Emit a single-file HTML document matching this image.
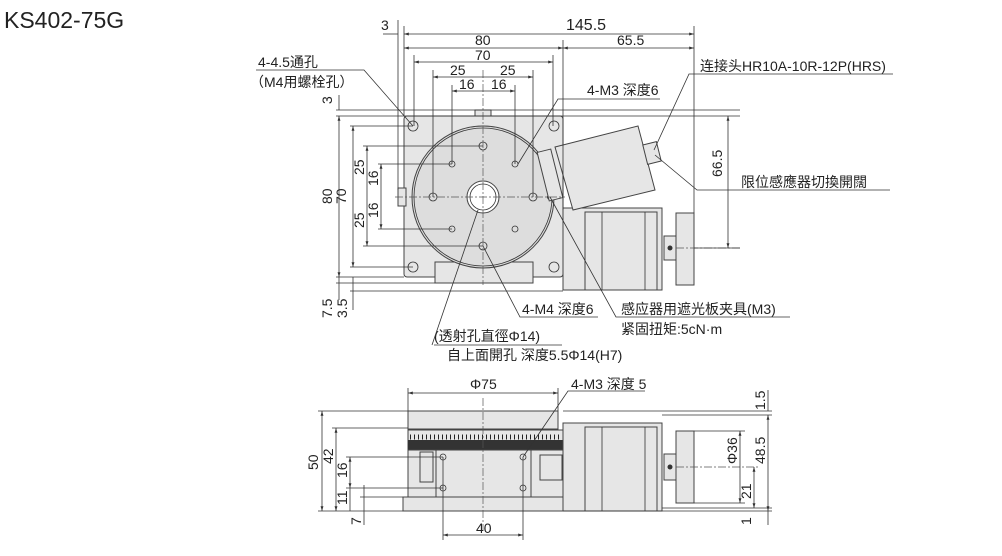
<!DOCTYPE html>
<html><head><meta charset="utf-8"><style>
body{margin:0;background:#fff;}
svg{display:block;font-family:"Liberation Sans","Noto Sans CJK SC",sans-serif;}
.t{font-size:14px;fill:#222}
.d{stroke:#333;stroke-width:0.8;fill:none}
.o{stroke:#444;stroke-width:1;fill:#e6e6e6}
.w{stroke:#444;stroke-width:1;fill:#fff}
.c{stroke:#555;stroke-width:0.7;stroke-dasharray:8 2 2 2;fill:none}
</style></head><body>
<svg width="1002" height="556" viewBox="0 0 1002 556">
<defs><marker id="a" viewBox="0 0 10 10" refX="10" refY="5" markerWidth="6" markerHeight="6" orient="auto-start-reverse"><path d="M0,2L10,5L0,8z" fill="#333"/></marker></defs>
<text x="4" y="28" style="font-size:23px;fill:#222">KS402-75G</text>

<!-- TOP VIEW -->
<rect class="o" x="404" y="116" width="159" height="161" rx="3"/>
<rect class="o" x="435" y="262" width="98" height="21"/>
<rect class="o" x="398" y="188" width="8" height="18"/>
<path class="o" d="M475,116 v-6 h16 v6z"/>
<circle class="o" cx="483" cy="197" r="71" style="fill:#ddd"/>
<circle class="d" cx="483" cy="197" r="69"/>
<circle class="w" cx="483" cy="197" r="16"/>
<circle class="d" cx="483" cy="197" r="13"/>
<g class="d">
<circle cx="413" cy="126" r="5"/><circle cx="554" cy="126" r="5"/><circle cx="413" cy="267" r="5"/><circle cx="554" cy="267" r="5"/>
<circle cx="483" cy="146" r="4"/><circle cx="483" cy="246" r="4"/><circle cx="433" cy="197" r="4"/><circle cx="533" cy="197" r="4"/>
<circle cx="452" cy="164" r="3"/><circle cx="515" cy="164" r="3"/><circle cx="452" cy="229" r="3"/><circle cx="515" cy="229" r="3"/>
</g>
<circle cx="550" cy="197" r="3" fill="#333"/>
<!-- motor -->
<rect class="o" x="563" y="208" width="99" height="82"/>
<rect class="o" x="585" y="212" width="72" height="78"/>
<line class="d" x1="602" y1="212" x2="602" y2="290"/><line class="d" x1="645" y1="212" x2="645" y2="290"/>
<path class="o" d="M555,147 L638,126 L655,190 L573,210z"/>
<rect class="o" x="543" y="150" width="14" height="50" transform="rotate(-14 550 175)"/>
<rect class="o" x="645" y="143" width="14" height="20" transform="rotate(-14 652 153)"/>
<rect class="o" x="676" y="213" width="18" height="72"/>
<rect class="o" x="664" y="236" width="12" height="24"/>
<circle cx="670" cy="248" r="2.5" fill="#333"/>
<!-- centerlines -->
<line class="c" x1="483" y1="70" x2="483" y2="285"/>
<line class="c" x1="395" y1="197" x2="565" y2="197"/>
<line class="c" x1="676" y1="248" x2="740" y2="248"/>
<!-- top dims -->
<g class="d">
<line x1="398" y1="20" x2="398" y2="190"/><line x1="404" y1="26" x2="404" y2="116"/>
<line x1="563" y1="40" x2="563" y2="210"/><line x1="694" y1="26" x2="694" y2="213"/>
<line x1="404" y1="34" x2="694" y2="34" marker-start="url(#a)" marker-end="url(#a)"/>
<line x1="404" y1="48" x2="563" y2="48" marker-start="url(#a)" marker-end="url(#a)"/>
<line x1="563" y1="48" x2="694" y2="48" marker-start="url(#a)" marker-end="url(#a)"/>
<line x1="383" y1="34" x2="398" y2="34"/>
<line x1="414" y1="55" x2="414" y2="126"/><line x1="553" y1="55" x2="553" y2="126"/>
<line x1="414" y1="62" x2="553" y2="62" marker-start="url(#a)" marker-end="url(#a)"/>
<line x1="433" y1="70" x2="433" y2="197"/><line x1="533" y1="70" x2="533" y2="197"/>
<line x1="433" y1="77" x2="533" y2="77" marker-start="url(#a)" marker-end="url(#a)"/>
<line x1="452" y1="85" x2="452" y2="164"/><line x1="515" y1="85" x2="515" y2="164"/>
<line x1="452" y1="91" x2="515" y2="91" marker-start="url(#a)" marker-end="url(#a)"/>
<!-- left -->
<line x1="336" y1="110" x2="740" y2="110"/>
<line x1="336" y1="116" x2="740" y2="116"/>
<line x1="350" y1="126" x2="413" y2="126"/><line x1="350" y1="267" x2="413" y2="267"/>
<line x1="363" y1="146" x2="483" y2="146"/><line x1="363" y1="246" x2="483" y2="246"/>
<line x1="378" y1="164" x2="452" y2="164"/><line x1="378" y1="229" x2="452" y2="229"/>
<line x1="336" y1="277" x2="404" y2="277"/><line x1="336" y1="283" x2="435" y2="283"/><line x1="350" y1="291" x2="563" y2="291"/>
<line x1="339" y1="116" x2="339" y2="277" marker-start="url(#a)" marker-end="url(#a)"/>
<line x1="339" y1="95" x2="339" y2="110"/><line x1="339" y1="277" x2="339" y2="300"/>
<line x1="353" y1="126" x2="353" y2="267" marker-start="url(#a)" marker-end="url(#a)"/>
<line x1="353" y1="277" x2="353" y2="310"/>
<line x1="367" y1="146" x2="367" y2="246" marker-start="url(#a)" marker-end="url(#a)"/>
<line x1="381" y1="164" x2="381" y2="229" marker-start="url(#a)" marker-end="url(#a)"/>
<line x1="728" y1="116" x2="728" y2="248" marker-start="url(#a)" marker-end="url(#a)"/>
<line x1="694" y1="248" x2="740" y2="248"/>
</g>
<g class="t">
<text x="566" y="30" style="font-size:16px">145.5</text>
<text x="475" y="45">80</text><text x="617" y="45">65.5</text>
<text x="475" y="60">70</text><text x="450" y="75">25</text><text x="500" y="75">25</text>
<text x="459" y="89">16</text><text x="491" y="89">16</text>
<text x="381" y="30">3</text>
<text transform="translate(332,204) rotate(-90)">80</text>
<text transform="translate(346,204) rotate(-90)">70</text>
<text transform="translate(364,175) rotate(-90)">25</text><text transform="translate(364,228) rotate(-90)">25</text>
<text transform="translate(378,186) rotate(-90)">16</text><text transform="translate(378,218) rotate(-90)">16</text>
<text transform="translate(332,104) rotate(-90)">3</text>
<text transform="translate(332,318) rotate(-90)">7.5</text>
<text transform="translate(347,318) rotate(-90)">3.5</text>
<text transform="translate(722,177) rotate(-90)">66.5</text>
<text x="258" y="67">4-4.5通孔</text><text x="250" y="87">（M4用螺栓孔）</text>
<text x="587" y="95">4-M3 深度6</text>
<text x="700" y="71">连接头HR10A-10R-12P(HRS)</text>
<text x="741" y="187">限位感應器切換開闊</text>
<text x="522" y="314">4-M4 深度6</text>
<text x="621" y="314">感应器用遮光板夹具(M3)</text>
<text x="621" y="334">紧固扭矩:5cN·m</text>
<text x="434" y="341">(透射孔直徑Φ14)</text>
<text x="447" y="360">自上面開孔 深度5.5Φ14(H7)</text>
</g>
<g class="d">
<polyline points="256,70 364,70 413,126"/><polyline points="518,164 558,99 660,99"/>
<polyline points="893,74 689,74 654,150"/><polyline points="890,190 697,190 655,155"/>
<polyline points="483,246 520,317 598,317"/><polyline points="550,197 616,317 790,317"/>
<polyline points="432,345 478,210"/><line x1="434" y1="345" x2="562" y2="345"/>
</g>

<!-- SIDE VIEW -->
<rect class="o" x="408" y="411" width="150" height="18"/>
<rect class="o" x="408" y="430" width="155" height="20"/>
<path d="M410,437 H560" stroke="#222" stroke-width="5" stroke-dasharray="1 3"/>
<rect x="408" y="440" width="155" height="10" fill="#333"/>
<rect class="o" x="408" y="450" width="155" height="47"/>
<rect class="w" x="436" y="450" width="95" height="47" style="fill:#e6e6e6"/>
<rect class="o" x="420" y="452" width="13" height="30"/>
<rect class="o" x="540" y="455" width="22" height="25"/>
<rect class="o" x="403" y="497" width="160" height="14"/>
<rect class="o" x="563" y="423" width="99" height="88"/>
<rect class="o" x="585" y="427" width="72" height="84"/>
<line class="d" x1="602" y1="427" x2="602" y2="511"/><line class="d" x1="645" y1="427" x2="645" y2="511"/>
<rect class="o" x="676" y="431" width="18" height="72"/>
<rect class="o" x="664" y="454" width="12" height="26"/>
<circle cx="670" cy="467" r="2.5" fill="#333"/>
<g class="d"><circle cx="443" cy="457" r="3"/><circle cx="523" cy="457" r="3"/><circle cx="443" cy="488" r="3"/><circle cx="523" cy="488" r="3"/></g>
<line class="c" x1="483" y1="398" x2="483" y2="530"/>
<line class="c" x1="676" y1="467" x2="760" y2="467"/>
<g class="d">
<line x1="408" y1="393" x2="558" y2="393" marker-start="url(#a)" marker-end="url(#a)"/>
<line x1="408" y1="388" x2="408" y2="411"/><line x1="558" y1="388" x2="558" y2="411"/>
<line x1="443" y1="457" x2="443" y2="540"/><line x1="523" y1="457" x2="523" y2="540"/>
<line x1="443" y1="535" x2="523" y2="535" marker-start="url(#a)" marker-end="url(#a)"/>
<line x1="318" y1="411" x2="408" y2="411"/><line x1="332" y1="428" x2="408" y2="428"/>
<line x1="346" y1="457" x2="443" y2="457"/><line x1="346" y1="488" x2="443" y2="488"/>
<line x1="360" y1="497" x2="403" y2="497"/><line x1="318" y1="511" x2="403" y2="511"/>
<line x1="322" y1="411" x2="322" y2="511" marker-start="url(#a)" marker-end="url(#a)"/>
<line x1="336" y1="428" x2="336" y2="511" marker-start="url(#a)" marker-end="url(#a)"/>
<line x1="350" y1="457" x2="350" y2="488" marker-start="url(#a)" marker-end="url(#a)"/>
<line x1="350" y1="488" x2="350" y2="511"/>
<line x1="364" y1="485" x2="364" y2="525"/>
<line x1="563" y1="411" x2="772" y2="411"/><line x1="662" y1="415" x2="772" y2="415"/>
<line x1="694" y1="431" x2="745" y2="431"/><line x1="694" y1="503" x2="745" y2="503"/>
<line x1="563" y1="511" x2="772" y2="511"/><line x1="662" y1="508" x2="772" y2="508"/>
<line x1="740" y1="431" x2="740" y2="503" marker-start="url(#a)" marker-end="url(#a)"/>
<line x1="754" y1="467" x2="754" y2="508" marker-start="url(#a)" marker-end="url(#a)"/>
<line x1="768" y1="415" x2="768" y2="511" marker-start="url(#a)" marker-end="url(#a)"/>
<line x1="768" y1="390" x2="768" y2="411"/><line x1="768" y1="511" x2="768" y2="525"/>
<polyline points="523,457 568,391 645,391"/>
</g>
<g class="t">
<text x="470" y="389">Φ75</text><text x="571" y="389">4-M3 深度 5</text>
<text x="476" y="533">40</text>
<text transform="translate(318,470) rotate(-90)">50</text>
<text transform="translate(333,464) rotate(-90)">42</text>
<text transform="translate(347,478) rotate(-90)">16</text>
<text transform="translate(347,505) rotate(-90)">11</text>
<text transform="translate(361,525) rotate(-90)">7</text>
<text transform="translate(737,464) rotate(-90)">Φ36</text>
<text transform="translate(765,464) rotate(-90)">48.5</text>
<text transform="translate(751,499) rotate(-90)">21</text>
<text transform="translate(765,410) rotate(-90)">1.5</text>
<text transform="translate(751,525) rotate(-90)">1</text>
</g>
</svg>
</body></html>
